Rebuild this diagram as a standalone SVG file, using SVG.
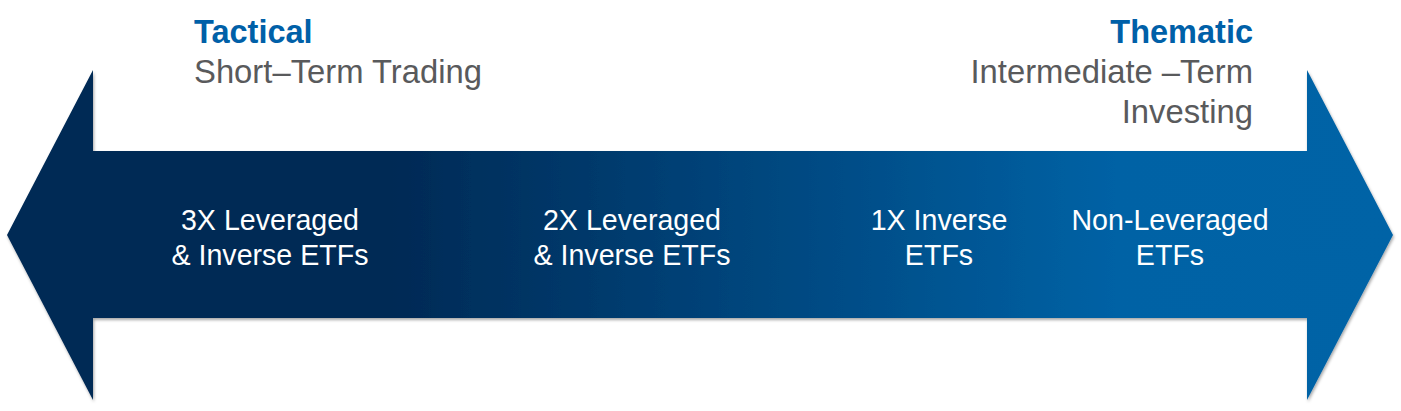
<svg xmlns="http://www.w3.org/2000/svg" width="1401" height="411" viewBox="0 0 1401 411">
<style>
.h{font-family:"Liberation Sans",Arial,sans-serif;font-weight:bold;font-size:32.5px;fill:#0060a8}
.s{font-family:"Liberation Sans",Arial,sans-serif;font-size:32.8px;fill:#595a5c}
.w{font-family:"Liberation Sans",Arial,sans-serif;font-size:28.6px;fill:#ffffff;text-anchor:middle}
</style>
<defs>
<linearGradient id="g" gradientUnits="userSpaceOnUse" x1="7" y1="0" x2="1394" y2="0">
<stop offset="0" stop-color="#012954"/>
<stop offset="0.27" stop-color="#012954"/>
<stop offset="0.8" stop-color="#0062a5"/>
<stop offset="1" stop-color="#0063a6"/>
</linearGradient>
<filter id="sh" x="-5%" y="-5%" width="110%" height="115%">
<feDropShadow dx="1" dy="2" stdDeviation="1.5" flood-color="#000" flood-opacity="0.35"/>
</filter>
</defs>
<g id="arrow">
<path d="M7,235 L93,70 L93,151 L1307,151 L1307,70 L1393,235 L1307,400 L1307,318 L93,318 L93,400 Z" fill="url(#g)" filter="url(#sh)"/>
</g>
<g id="tactical">
<text class="h" x="194" y="43">Tactical</text>
<text class="s" x="194" y="83">Short–Term Trading</text>
</g>
<g id="thematic">
<text class="h" x="1253" y="43" text-anchor="end">Thematic</text>
<text class="s" x="1253" y="83" text-anchor="end">Intermediate –Term</text>
<text class="s" x="1253" y="123" text-anchor="end">Investing</text>
</g>
<g id="n3x">
<text class="w" x="270" y="230">3X Leveraged</text>
<text class="w" x="270" y="265">&amp; Inverse ETFs</text>
</g>
<g id="n2x">
<text class="w" x="632" y="230">2X Leveraged</text>
<text class="w" x="632" y="265">&amp; Inverse ETFs</text>
</g>
<g id="n1x">
<text class="w" x="939" y="230">1X Inverse</text>
<text class="w" x="939" y="265">ETFs</text>
</g>
<g id="nnon">
<text class="w" x="1170" y="230">Non-Leveraged</text>
<text class="w" x="1170" y="265">ETFs</text>
</g>
<g id="connectors"/>
</svg>
